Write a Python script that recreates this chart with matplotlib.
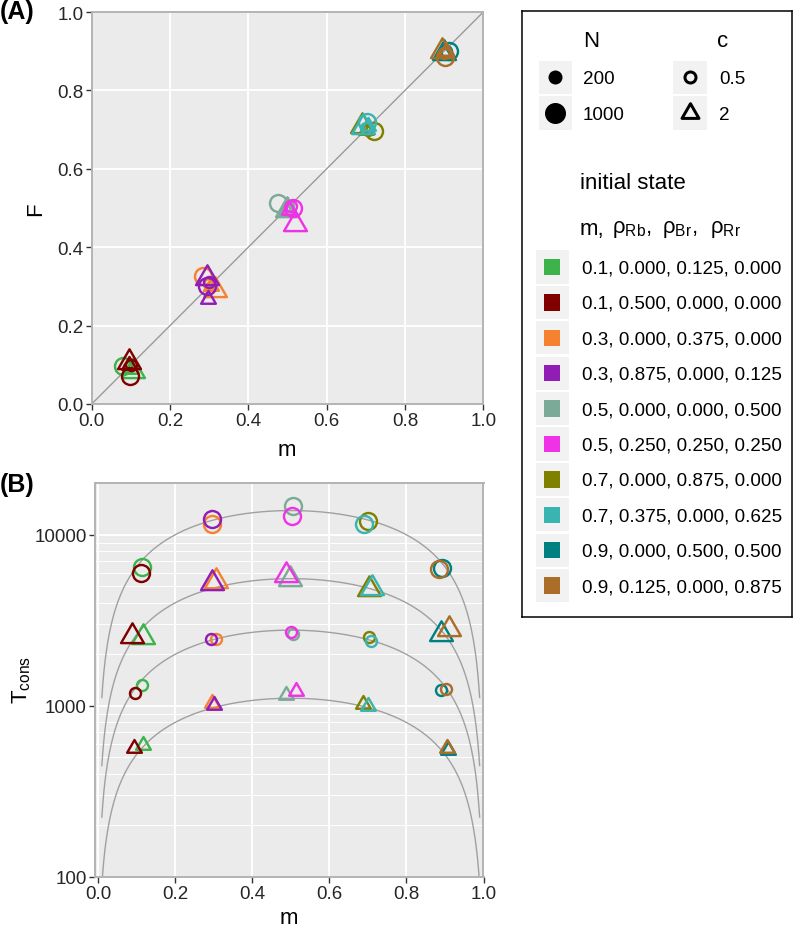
import numpy as np
import matplotlib
matplotlib.use('Agg')
import matplotlib.pyplot as plt
from matplotlib.path import Path
from matplotlib.patches import Rectangle
from matplotlib.ticker import FixedLocator, NullFormatter

plt.rcParams['font.family'] = ['Liberation Sans', 'DejaVu Sans']
plt.rcParams['mathtext.fontset'] = 'custom'
plt.rcParams['mathtext.rm'] = 'Liberation Sans'
plt.rcParams['mathtext.it'] = 'Liberation Sans:italic'
plt.rcParams['mathtext.bf'] = 'Liberation Sans:bold'

# ---------------- data ----------------
state_labels = ["0.1, 0.000, 0.125, 0.000", "0.1, 0.500, 0.000, 0.000",
                "0.3, 0.000, 0.375, 0.000", "0.3, 0.875, 0.000, 0.125",
                "0.5, 0.000, 0.000, 0.500", "0.5, 0.250, 0.250, 0.250",
                "0.7, 0.000, 0.875, 0.000", "0.7, 0.375, 0.000, 0.625",
                "0.9, 0.000, 0.500, 0.500", "0.9, 0.125, 0.000, 0.875"]
state_colors = ["#3CB44B", "#800000", "#F58231", "#911EB4", "#7BAA98",
                "#F032E6", "#808000", "#3AB4B0", "#008080", "#AA6E28"]

N_values = [200, 1000]
c_values = ["0.5", "2"]

# Panel A: (m, F) per state, for each (N, c)
A_m_N1000_c05 = [0.079, 0.098, 0.284, 0.295, 0.477, 0.515, 0.720, 0.702, 0.913, 0.902]
A_F_N1000_c05 = [0.098, 0.072, 0.327, 0.300, 0.512, 0.499, 0.697, 0.719, 0.901, 0.884]
A_m_N1000_c2 = [0.106, 0.094, 0.314, 0.294, 0.499, 0.520, 0.689, 0.692, 0.900, 0.894]
A_F_N1000_c2 = [0.084, 0.106, 0.292, 0.321, 0.495, 0.458, 0.709, 0.706, 0.895, 0.901]
A_m_N200_c05 = [0.095, 0.100, 0.300, 0.300, 0.500, 0.510, 0.705, 0.700, 0.905, 0.900]
A_F_N200_c05 = [0.095, 0.100, 0.305, 0.310, 0.505, 0.505, 0.700, 0.705, 0.900, 0.895]
A_m_N200_c2 = [0.100, 0.095, 0.305, 0.298, 0.495, 0.505, 0.700, 0.705, 0.900, 0.905]
A_F_N200_c2 = [0.090, 0.100, 0.300, 0.268, 0.495, 0.495, 0.700, 0.710, 0.895, 0.900]

# Panel B: (m, T_cons) per state, for each (N, c)
B_m_N1000_c05 = [0.115, 0.111, 0.295, 0.295, 0.507, 0.503, 0.700, 0.690, 0.893, 0.884]
B_T_N1000_c05 = [6530, 6010, 11550, 12360, 14650, 12920, 12080, 11550, 6440, 6300]
B_m_N1000_c2 = [0.117, 0.089, 0.305, 0.297, 0.498, 0.488, 0.704, 0.712, 0.891, 0.910]
B_T_N1000_c2 = [2520, 2565, 5350, 5250, 5500, 5840, 4830, 4870, 2640, 2820]
B_m_N200_c05 = [0.115, 0.096, 0.306, 0.293, 0.505, 0.501, 0.704, 0.707, 0.891, 0.903]
B_T_N200_c05 = [1318, 1183, 2470, 2470, 2620, 2720, 2530, 2390, 1247, 1264]
B_m_N200_c2 = [0.117, 0.093, 0.295, 0.301, 0.487, 0.513, 0.687, 0.701, 0.909, 0.905]
B_T_N200_c2 = [590, 569, 1042, 1011, 1157, 1227, 1033, 1000, 555, 571]

# theory curves: T = -C [m ln m + (1-m) ln(1-m)]
curve_C = [20000, 8000, 4000, 1600]
curve_m_range = (0.01, 0.99)

# ---------------- styles ----------------
W, H = 794, 929
DPI = 100
PX = 72.0 / DPI  # points per pixel

tri = Path([(0, 1), (-0.866, -0.5), (0.866, -0.5), (0, 1)],
           [Path.MOVETO, Path.LINETO, Path.LINETO, Path.CLOSEPOLY])
marker_of = {"0.5": "o", "2": tri}
size_of = {("0.5", 1000): 17 * PX, ("0.5", 200): 11 * PX,
           ("2", 1000): 26.4 * PX, ("2", 200): 17 * PX}
mew = 2.4 * PX

panel_bg = "#EBEBEB"
border_col = "#B3B3B3"
tick_col = "#333333"
label_col = "#262626"
FS_TICK = 13.5
FS_TITLE = 16
FS_LAB = 13.6
FS_TAG = 18

fig = plt.figure(figsize=(W / DPI, H / DPI), dpi=DPI)


def px_axes(x0, y0, x1, y1):
    return fig.add_axes([x0 / W, 1 - y1 / H, (x1 - x0) / W, (y1 - y0) / H])


def style_axes(ax):
    ax.set_facecolor(panel_bg)
    for s in ax.spines.values():
        s.set_color(border_col)
        s.set_linewidth(1.4)
    ax.tick_params(which='major', length=4.0, width=1.0, color=tick_col,
                   labelsize=FS_TICK, labelcolor=label_col, pad=2)
    ax.tick_params(which='minor', length=0)
    ax.set_axisbelow(True)


# ---------------- panel A ----------------
axA = px_axes(91.7, 13, 483.3, 405)
style_axes(axA)
axA.set_xlim(0, 1)
axA.set_ylim(0, 1)
ticks = [0, 0.2, 0.4, 0.6, 0.8, 1.0]
axA.set_xticks(ticks)
axA.set_yticks(ticks)
axA.set_xticklabels([f"{t:.1f}" for t in ticks])
axA.set_yticklabels([f"{t:.1f}" for t in ticks])
axA.grid(True, which='major', color='white', linewidth=1.3)
axA.plot([0, 1], [0, 1], color="#9A9A9A", linewidth=1.0, zorder=1)

A_sets = [(A_m_N1000_c05, A_F_N1000_c05, "0.5", 1000),
          (A_m_N1000_c2, A_F_N1000_c2, "2", 1000),
          (A_m_N200_c05, A_F_N200_c05, "0.5", 200),
          (A_m_N200_c2, A_F_N200_c2, "2", 200)]
for i, col in enumerate(state_colors):
    for xs, ys, c, N in A_sets:
        axA.plot(xs[i], ys[i], linestyle='none', marker=marker_of[c],
                 ms=size_of[(c, N)], mfc='none', mec=col, mew=mew, zorder=3)

fig.text(287 / W, 1 - 456 / H, "m", ha='center', va='baseline', fontsize=FS_TITLE, color='black')
fig.text(36 / W, 1 - 209 / H, "F", ha='center', va='center', rotation=90,
         fontsize=FS_TITLE, color='black')
fig.text(0 / W, 1 - 12 / H, "(A)", ha='left', va='center', fontsize=FS_TAG,
         fontweight='bold', color='black')

# ---------------- panel B ----------------
axB = px_axes(95.3, 484, 483.5, 878)
style_axes(axB)
axB.set_yscale('log')
axB.set_xlim(-0.007, 1.0)
axB.set_ylim(100, 10 ** 4.303)
axB.set_xticks(ticks)
axB.set_xticklabels([f"{t:.1f}" for t in ticks])
axB.yaxis.set_major_locator(FixedLocator([100, 1000, 10000]))
axB.set_yticklabels(["100", "1000", "10000"])
minors = [k * 10 ** e for e in (2, 3, 4) for k in range(2, 10)]
axB.yaxis.set_minor_locator(FixedLocator(minors))
axB.yaxis.set_minor_formatter(NullFormatter())
axB.grid(True, which='major', color='white', linewidth=1.3)
axB.grid(True, which='minor', axis='y', color='white', linewidth=0.7)

mm = np.linspace(curve_m_range[0], curve_m_range[1], 400)
ent = -(mm * np.log(mm) + (1 - mm) * np.log(1 - mm))
for C in curve_C:
    axB.plot(mm, C * ent, color="#A0A0A0", linewidth=1.0, zorder=1)

B_sets = [(B_m_N1000_c05, B_T_N1000_c05, "0.5", 1000),
          (B_m_N1000_c2, B_T_N1000_c2, "2", 1000),
          (B_m_N200_c05, B_T_N200_c05, "0.5", 200),
          (B_m_N200_c2, B_T_N200_c2, "2", 200)]
for i, col in enumerate(state_colors):
    for xs, ys, c, N in B_sets:
        axB.plot(xs[i], ys[i], linestyle='none', marker=marker_of[c],
                 ms=size_of[(c, N)], mfc='none', mec=col, mew=mew, zorder=3)

fig.text(289 / W, 1 - 924 / H, "m", ha='center', va='baseline', fontsize=FS_TITLE, color='black')
fig.text(22 / W, 1 - 680 / H, r"T$_{\mathrm{cons}}$", ha='center', va='center', rotation=90,
         fontsize=FS_TITLE, color='black')
fig.text(0 / W, 1 - 485 / H, "(B)", ha='left', va='center', fontsize=FS_TAG,
         fontweight='bold', color='black')

# ---------------- legend ----------------
lx0, ly0, lx1, ly1 = 521.7, 11.7, 791.7, 618
axL = px_axes(lx0, ly0, lx1, ly1)
axL.set_xlim(lx0, lx1)
axL.set_ylim(ly1, ly0)
axL.set_xticks([])
axL.set_yticks([])
for s in axL.spines.values():
    s.set_color('black')
    s.set_linewidth(1.1)

key_bg = "#F2F2F2"
# N legend
axL.text(583, 41, "N", ha='left', va='center', fontsize=FS_TITLE)
N_key_ms = {200: 14 * PX, 1000: 21 * PX}
for N, yc in zip(N_values, [78.4, 114]):
    axL.add_patch(Rectangle((539, yc - 16.6), 32.7, 33.3, facecolor=key_bg, edgecolor='none'))
    axL.plot(555.3, yc, marker='o', ms=N_key_ms[N], color='black', mec='none', linestyle='none')
    axL.text(583, yc + 1, str(N), ha='left', va='center', fontsize=FS_LAB)

# c legend
axL.text(717, 41, "c", ha='left', va='center', fontsize=FS_TITLE)
c_key_ms = {"0.5": 11 * PX, "2": 19.6 * PX}
for c, yc in zip(c_values, [78.4, 114]):
    axL.add_patch(Rectangle((673.3, yc - 16.6), 33.4, 33.3, facecolor=key_bg, edgecolor='none'))
    axL.plot(690, yc, marker=marker_of[c], ms=c_key_ms[c], mfc='none', mec='black',
             mew=3 * PX, linestyle='none')
    axL.text(719, yc + 1, c, ha='left', va='center', fontsize=FS_LAB)

# colour legend
axL.text(580, 183, "initial state", ha='left', va='center', fontsize=FS_TITLE)
head_parts = [(580, "m,"), (611.5, "ρ$_{\\mathrm{Rb}}$,"), (661.5, "ρ$_{\\mathrm{Br}}$,"),
              (710, "ρ$_{\\mathrm{Rr}}$")]
for hx, ht in head_parts:
    axL.text(hx, 229, ht, ha='left', va='center', fontsize=FS_TITLE)

for i, (lab, col) in enumerate(zip(state_labels, state_colors)):
    yc = 268 + i * 35.4
    axL.add_patch(Rectangle((535.7, yc - 16.6), 33.3, 33.2, facecolor=key_bg, edgecolor='none'))
    axL.add_patch(Rectangle((552.3 - 8.2, yc - 8.2), 16.4, 16.4, facecolor=col, edgecolor='none'))
    axL.text(581.7, yc + 1, lab, ha='left', va='center', fontsize=FS_LAB)

fig.savefig("out.png", dpi=DPI)
